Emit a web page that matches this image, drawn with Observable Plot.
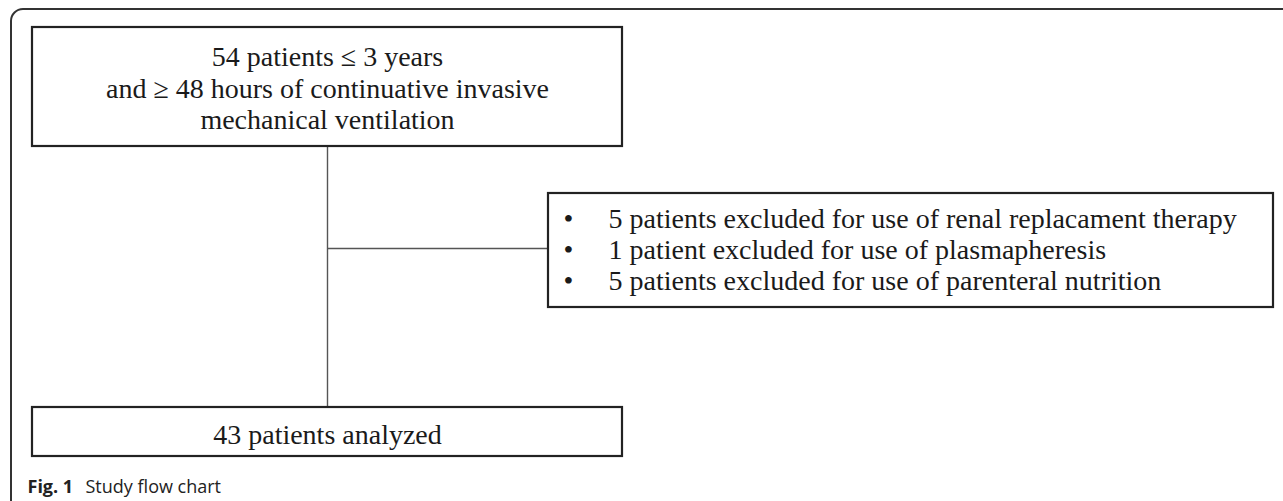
<!DOCTYPE html>
<html>
<head>
<meta charset="utf-8">
<script src="https://cdn.jsdelivr.net/npm/d3@7"></script>
<script src="https://cdn.jsdelivr.net/npm/@observablehq/plot@0.6"></script>
<style>
  html, body { margin: 0; padding: 0; background: #fff; }
  #chart svg { display: block; }
</style>
</head>
<body>
<div id="chart"></div>
<script>
// ---- data ----
const enrolledLines = ["54 patients \u2264 3 years", "and \u2265 48 hours of continuative invasive", "mechanical ventilation"];
const excludedCounts = [5, 1, 5];
const excludedReasons = [
  "excluded for use of renal replacament therapy",
  "excluded for use of plasmapheresis",
  "excluded for use of parenteral nutrition"
];
const analyzedCount = 43;
const captionLabel = "Fig. 1";
const captionText = "Study flow chart";

// ---- layout (pixel space) ----
const W = 1283, H = 501;
const boxes = [
  {x1: 32, x2: 622, y1: 27, y2: 146},
  {x1: 548, x2: 1273, y1: 193, y2: 307},
  {x1: 32, x2: 622, y1: 407, y2: 456}
];
const links = [
  {x1: 327, y1: 146, x2: 327, y2: 407},
  {x1: 327, y1: 248, x2: 548, y2: 248}
];
const topText = enrolledLines.map((t, i) => ({x: 327, y: [65, 97, 128][i], t}));
const exclText = excludedCounts.map((n, i) => ({
  x: 608, y: [227, 258, 289][i],
  t: `${n} ${n === 1 ? "patient" : "patients"} ${excludedReasons[i]}`
}));
const bullets = exclText.map(d => ({x: 568, y: d.y, t: "\u2022"}));
const bottomText = [{x: 327, y: 443, t: `${analyzedCount} patients analyzed`}];

const serif = "'Liberation Serif', 'Times New Roman', serif";
const sans = "'Open Sans', 'Noto Sans', sans-serif";
const FS = 28;

const plot = Plot.plot({
  width: W,
  height: H,
  margin: 0,
  x: {domain: [0, W], range: [0, W], axis: null},
  y: {domain: [0, H], range: [0, H], axis: null},
  style: {background: "#fff"},
  marks: [
    // outer rounded frame (only top and left edges visible)
    Plot.rect([{x1: 11, x2: W + 40, y1: 9, y2: H + 40}], {
      x1: "x1", x2: "x2", y1: "y1", y2: "y2",
      fill: "none", stroke: "#333", strokeWidth: 2, rx: 12, clip: true
    }),
    Plot.link(links, {x1: "x1", y1: "y1", x2: "x2", y2: "y2", stroke: "#555", strokeWidth: 1.4}),
    Plot.rect(boxes, {x1: "x1", x2: "x2", y1: "y1", y2: "y2", fill: "#fff", stroke: "#222", strokeWidth: 2.2}),
    Plot.text(topText, {x: "x", y: "y", text: "t", textAnchor: "middle", lineAnchor: "bottom",
      fontFamily: serif, fontSize: FS, fill: "#1a1a1a"}),
    Plot.text(bullets, {x: "x", y: "y", text: "t", textAnchor: "middle", lineAnchor: "bottom",
      fontFamily: serif, fontSize: FS, fill: "#1a1a1a"}),
    Plot.text(exclText, {x: "x", y: "y", text: "t", textAnchor: "start", lineAnchor: "bottom",
      fontFamily: serif, fontSize: FS, fill: "#1a1a1a"}),
    Plot.text(bottomText, {x: "x", y: "y", text: "t", textAnchor: "middle", lineAnchor: "bottom",
      fontFamily: serif, fontSize: FS, fill: "#1a1a1a"}),
    Plot.text([{x: 27, y: 492, t: captionLabel}], {x: "x", y: "y", text: "t", textAnchor: "start", lineAnchor: "bottom",
      fontFamily: sans, fontSize: 18, fontWeight: "bold", fill: "#222"}),
    Plot.text([{x: 85, y: 492, t: captionText}], {x: "x", y: "y", text: "t", textAnchor: "start", lineAnchor: "bottom",
      fontFamily: sans, fontSize: 18, fill: "#222"})
  ]
});
document.getElementById("chart").appendChild(plot);
</script>
</body>
</html>
